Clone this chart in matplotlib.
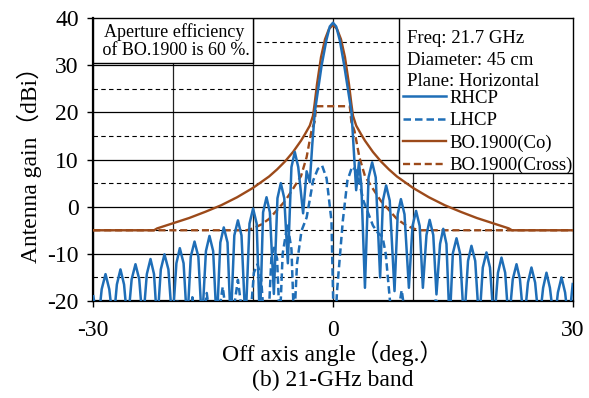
import matplotlib
matplotlib.use('Agg')
import matplotlib.pyplot as plt
from matplotlib.patches import Rectangle
from matplotlib.ticker import MultipleLocator, FixedLocator

rhcp_angle = [-30.0, -29.4, -28.95, -28.47, -28.0, -27.5, -27.05, -26.6, -26.15,
              -25.7, -25.2, -24.72, -24.25, -23.8, -23.3, -22.84, -22.4, -22.0,
              -21.55, -21.09, -20.6, -20.1, -19.6, -19.17, -18.7, -18.25, -17.8,
              -17.33, -16.85, -16.4, -15.9, -15.46, -15.0, -14.55, -14.1, -13.67,
              -13.2, -12.8, -12.35, -11.9, -11.45, -10.95, -10.45, -10.0, -9.55,
              -9.15, -8.75, -8.32, -7.9, -7.4, -6.95, -6.53, -6.1, -5.65, -5.2,
              -4.78, -4.35, -3.74, -3.3, -2.9, -2.6, -2.28, -1.42, -0.83, -0.4,
              0.0, 0.4, 0.85, 1.4, 2.32, 2.6, 2.9, 3.25, 3.55, 4.0, 4.45, 4.9,
              5.35, 5.9, 6.25, 6.65, 7.1, 7.7, 8.1, 8.5, 8.95, 9.5, 9.95, 10.4,
              10.85, 11.25, 11.7, 12.1, 12.55, 12.95, 13.4, 13.8, 14.2, 14.6,
              15.0, 15.46, 15.9, 16.4, 16.9, 17.33, 17.8, 18.3, 18.75, 19.21,
              19.65, 20.15, 20.65, 21.09, 21.55, 22.0, 22.5, 22.97, 23.4, 23.9,
              24.4, 24.84, 25.3, 25.8, 26.3, 26.72, 27.15, 27.7, 28.15, 28.6,
              29.05, 29.5, 30.0]
rhcp_gain = [-19, -25, -17.5, -14.3, -17.5, -25, -16.5, -13.3, -16.5,
             -25, -15.4, -12.2, -15.4, -25, -14.3, -11.1, -14.3, -25,
             -13.3, -10.1, -13.3, -25, -12, -8.8, -12, -25, -10.6,
             -7.4, -10.6, -25, -9.4, -6.2, -9.4, -25, -7.6, -4.4,
             -7.6, -25, -6.1, -2.9, -6.1, -25, -3.6, -0.4, -3.6,
             -25, -1.2, 2.0, -1.2, -18.5, 1.8, 5.0, 1.8, -12, 8.4,
             11.6, 8.4, -1.4, 7.5, 5.2, 13, 20, 30, 35.3, 38.2,
             39, 38.2, 35.3, 30, 20, 12, 3.5, 9.4, 4.5, -17.2, 6.2, 9.4,
             6.2, -15, 1.3, 4.5, 1.3, -17.9, -1.6, 1.6, -1.6, -17.2, -4.1, -0.9,
             -4.1, -17.2, -6, -2.8, -6, -18.6, -7.9, -4.7, -7.9, -25,
             -9.9, -6.7, -9.9, -25, -11.5, -8.3, -11.5, -25, -12.9, -9.7,
             -12.9, -25, -14, -10.8, -14, -25, -15.4, -12.2, -15.4, -25,
             -16.1, -12.9, -16.1, -25, -17.2, -14.0, -17.2, -25, -18.2, -15.0,
             -18.2, -25, -16.4]

# LHCP measured pattern
lhcp_angle = [-30, -20.3, -19.9, -19.5, -19.1, -18.0, -17.6, -17.2, -16.3, -15.8,
              -15.3, -14.5, -13.8, -13.2, -12.7, -11.9, -11.2, -10.4, -9.9, -9.45,
              -9.0, -8.6, -8.1, -7.7, -7.37, -7.0, -6.66, -6.3, -5.7, -5.2,
              -4.87, -4.5, -3.94, -3.3, -2.49, -1.9, -1.36, -0.8, -0.19, 0.15,
              0.5, 1.23, 1.8, 2.4, 3.0, 3.8, 5.0, 5.6, 6.2, 6.6,
              7.4, 7.9, 8.6, 9.2, 10.5, 12.4, 12.9, 13.4, 14.0, 30]
lhcp_gain = [-30, -30, -25, -19.8, -25, -25, -19.2, -25, -25, -18.3,
             -25, -25, -17, -25, -25, -15.5, -25, -25, -14, -12.2,
             -15, -25, -25, -10.5, -8.7, -11, -25, -10, -3.7, -9,
             -25, -12, -5.1, -2.3, 5.5, 8, 8.7, 6, -3, -30,
             -18, -3, 5.5, 8.5, 7.5, 1.3, -4, -5.5, -6.4, -10,
             -25, -25, -17.7, -25, -30, -25, -19.3, -25, -30, -30]

# ITU-R BO.1900 reference patterns
co_angle = [-30, -22.4, -22, -20, -18, -16, -14, -12, -10, -8, -7, -6, -5, -4,
            -3.5, -2.9, -2.5, -2.3, -2.0, -1.5, -1.0, -0.5, 0, 0.5, 1.0, 1.5,
            2.0, 2.3, 2.5, 2.9, 3.5, 4, 5, 6, 7, 8, 10, 12, 14, 16, 18, 20,
            22, 22.4, 30]
co_gain = [-5, -5, -4.6, -3.5, -2.4, -1.1, 0.3, 2.0, 4.0, 6.4, 7.9, 9.6, 11.6, 14.0,
           15.4, 17.2, 19.3, 21.8, 26, 31.7, 35.5, 37.7, 38.5, 37.7, 35.5, 31.7,
           26, 21.8, 19.3, 17.2, 15.4, 14.0, 11.6, 9.6, 7.9, 6.4, 4.0, 2.0, 0.3,
           -1.1, -2.4, -3.5, -4.6, -5, -5]
cross_angle = [-30, -10.8, -10, -9, -8, -7, -6, -5, -4, -3.3, -2.7, -2.3, -2.1,
               2.1, 2.3, 2.7, 3.3, 4, 5, 6, 7, 8, 9, 10, 10.8, 30]
cross_gain = [-5, -5, -4.6, -3.8, -2.6, -0.7, 1.2, 3.8, 6.5, 10.5, 16, 18, 21.3,
              21.3, 18, 16, 10.5, 6.5, 3.8, 1.2, -0.7, -2.6, -3.8, -4.6, -5, -5]

info_lines = ['Freq: 21.7 GHz', 'Diameter: 45 cm', 'Plane: Horizontal']
note = 'Aperture efficiency\n of BO.1900 is 60 %.'

blue = '#1F6EB7'
brown = '#9C4A1A'

plt.rcParams['font.family'] = ['Liberation Serif', 'Noto Sans CJK JP']
plt.rcParams['axes.unicode_minus'] = False

fig = plt.figure(figsize=(5.89, 3.98), dpi=100)
ax = fig.add_axes([0.1584, 0.2437, 0.8139, 0.711])

ax.plot(co_angle, co_gain, color=brown, lw=1.7, label='BO.1900(Co)', zorder=3)
ax.plot(cross_angle, cross_gain, color=brown, lw=1.7, ls=(0, (3, 1.6)),
        label='BO.1900(Cross)', zorder=3)
ax.plot(lhcp_angle, lhcp_gain, color=blue, lw=1.8, ls=(0, (3, 1.6)),
        label='LHCP', zorder=4)
ax.plot(rhcp_angle, rhcp_gain, color=blue, lw=1.8, label='RHCP', zorder=4)

ax.set_xlim(-30, 30)
ax.set_ylim(-20, 40)
ax.xaxis.set_major_locator(FixedLocator([-30, 0, 30]))
ax.xaxis.set_minor_locator(MultipleLocator(10))
ax.yaxis.set_major_locator(MultipleLocator(10))
ax.yaxis.set_minor_locator(MultipleLocator(5))

ax.grid(which='major', axis='y', color='black', lw=0.9)
ax.grid(which='minor', axis='y', color='black', lw=0.8, ls=(0, (4, 3)))
ax.grid(which='both', axis='x', color='#222222', lw=0.9)
ax.set_axisbelow(True)

ax.tick_params(which='major', labelsize=17, length=4.5, width=1, pad=6)
ax.tick_params(which='minor', length=0)
ax.tick_params(axis='x', pad=9)
for s in ax.spines.values():
    s.set_color('black')
    s.set_linewidth(1.0)
ax.spines['left'].set_linewidth(1.6)
ax.spines['bottom'].set_linewidth(1.6)

ax.set_ylabel('Antenna gain（dBi）', fontsize=17, labelpad=4)
ax.set_xlabel('Off axis angle（deg.）', fontsize=17, labelpad=0)
fig.text(0.5654, 0.043, '(b) 21-GHz band', fontsize=17, ha='center', va='center')

# note box, top left
ax.add_patch(Rectangle((0, 0.841), 0.333, 0.159, transform=ax.transAxes,
                       facecolor='white', edgecolor='black', lw=1, zorder=5))
ax.text(0.168, 0.918, note, transform=ax.transAxes, ha='center', va='center',
        fontsize=13, linespacing=1.1, zorder=6)

# info / legend box, top right
ax.add_patch(Rectangle((0.638, 0.452), 0.362, 0.548, transform=ax.transAxes,
                       facecolor='white', edgecolor='black', lw=1, zorder=5))
for i, line in enumerate(info_lines):
    ax.text(0.654, 0.926 - i * 0.0745, line, transform=ax.transAxes,
            ha='left', va='center', fontsize=13.5, zorder=6)

handles, labels = ax.get_legend_handles_labels()
order = [3, 2, 0, 1]
leg = ax.legend([handles[i] for i in order], [labels[i] for i in order],
                loc='upper left', bbox_to_anchor=(0.645, 0.747), frameon=False,
                fontsize=13.5, handlelength=2.3, handletextpad=0.2,
                labelspacing=0.28, borderpad=0, borderaxespad=0)
leg.set_zorder(7)

fig.savefig('out.png', dpi=100)
